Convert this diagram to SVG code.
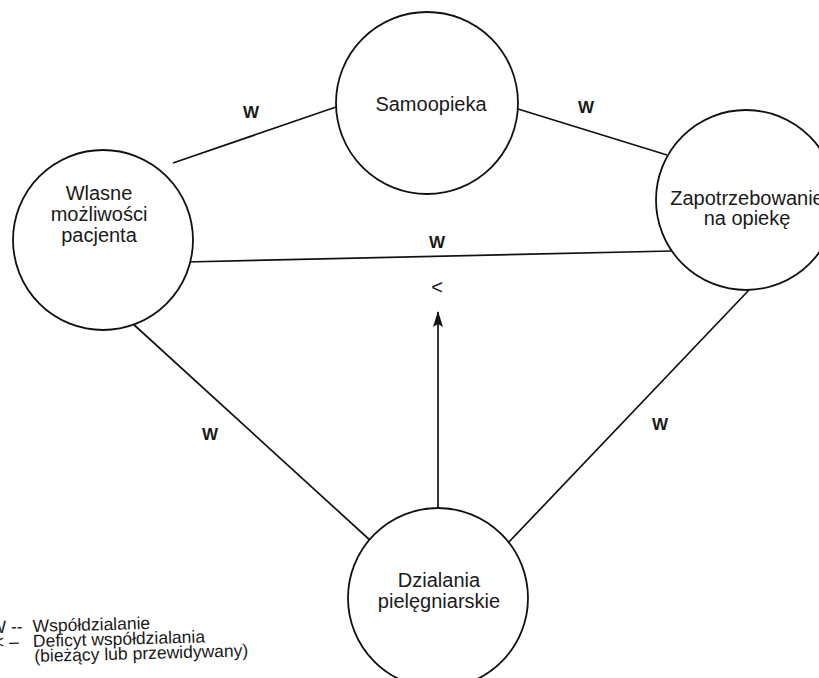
<svg xmlns="http://www.w3.org/2000/svg" width="819" height="678" viewBox="0 0 819 678">
  <defs>
    <marker id="arrow" viewBox="0 0 16 10" refX="15" refY="5" markerWidth="16" markerHeight="10" markerUnits="userSpaceOnUse" orient="auto">
      <path d="M0,0 L16,5 L0,10 L3,5 Z" fill="#111"/>
    </marker>
  </defs>
  <style>
    .node circle { fill: #fff; stroke: #111; stroke-width: 1.8; }
    .label { font-family: "Liberation Sans", Arial, sans-serif; font-size: 20px; fill: #1a1a1a; text-anchor: middle; }
    .edge { stroke: #111; stroke-width: 1.7; fill: none; }
    .w { font-family: "Liberation Sans", Arial, sans-serif; font-size: 17px; font-weight: bold; fill: #1a1a1a; text-anchor: middle; }
    .legend { font-family: "Liberation Sans", Arial, sans-serif; font-size: 17.5px; fill: #1a1a1a; }
  </style>

  <rect width="819" height="678" fill="#fff"/>

  <!-- connectors -->
  <g id="connectors">
    <line class="edge" x1="173" y1="163" x2="336" y2="107"/>
    <line class="edge" x1="518" y1="109" x2="667" y2="155"/>
    <line class="edge" x1="186" y1="262" x2="672" y2="251"/>
    <line class="edge" x1="120" y1="312" x2="372" y2="542"/>
    <line class="edge" x1="749" y1="290" x2="508" y2="543"/>
    <line class="edge" x1="438" y1="508" x2="438" y2="312" marker-end="url(#arrow)"/>
    <text class="w" x="251" y="118">W</text>
    <text class="w" x="586" y="113">W</text>
    <text class="w" x="437" y="248">W</text>
    <text class="w" x="210" y="440">W</text>
    <text class="w" x="660" y="430">W</text>
    <text class="label" x="437" y="294">&lt;</text>
  </g>

  <!-- nodes -->
  <g id="samoopieka" class="node">
    <circle cx="427" cy="103" r="91"/>
    <text class="label" x="431" y="111">Samoopieka</text>
  </g>
  <g id="wlasne-mozliwosci" class="node">
    <circle cx="103" cy="240" r="90"/>
    <text class="label" x="99" y="200">Wlasne</text>
    <text class="label" x="99" y="221">możliwości</text>
    <text class="label" x="99" y="242">pacjenta</text>
  </g>
  <g id="zapotrzebowanie" class="node">
    <circle cx="746" cy="200" r="90"/>
    <text class="label" x="747" y="205">Zapotrzebowanie</text>
    <text class="label" x="747" y="225">na opiekę</text>
  </g>
  <g id="dzialania" class="node">
    <circle cx="438" cy="598" r="90"/>
    <text class="label" x="439" y="587">Dzialania</text>
    <text class="label" x="439" y="608">pielęgniarskie</text>
  </g>

  <!-- legend -->
  <g id="legend" transform="rotate(-1.5 33 645)">
    <text class="legend" x="-10" y="632">W --</text>
    <text class="legend" x="33" y="632">Współdzialanie</text>
    <text class="legend" x="-6" y="647">&lt; –</text>
    <text class="legend" x="33" y="647">Deficyt współdzialania</text>
    <text class="legend" x="34" y="662">(bieżący lub przewidywany)</text>
  </g>
</svg>
